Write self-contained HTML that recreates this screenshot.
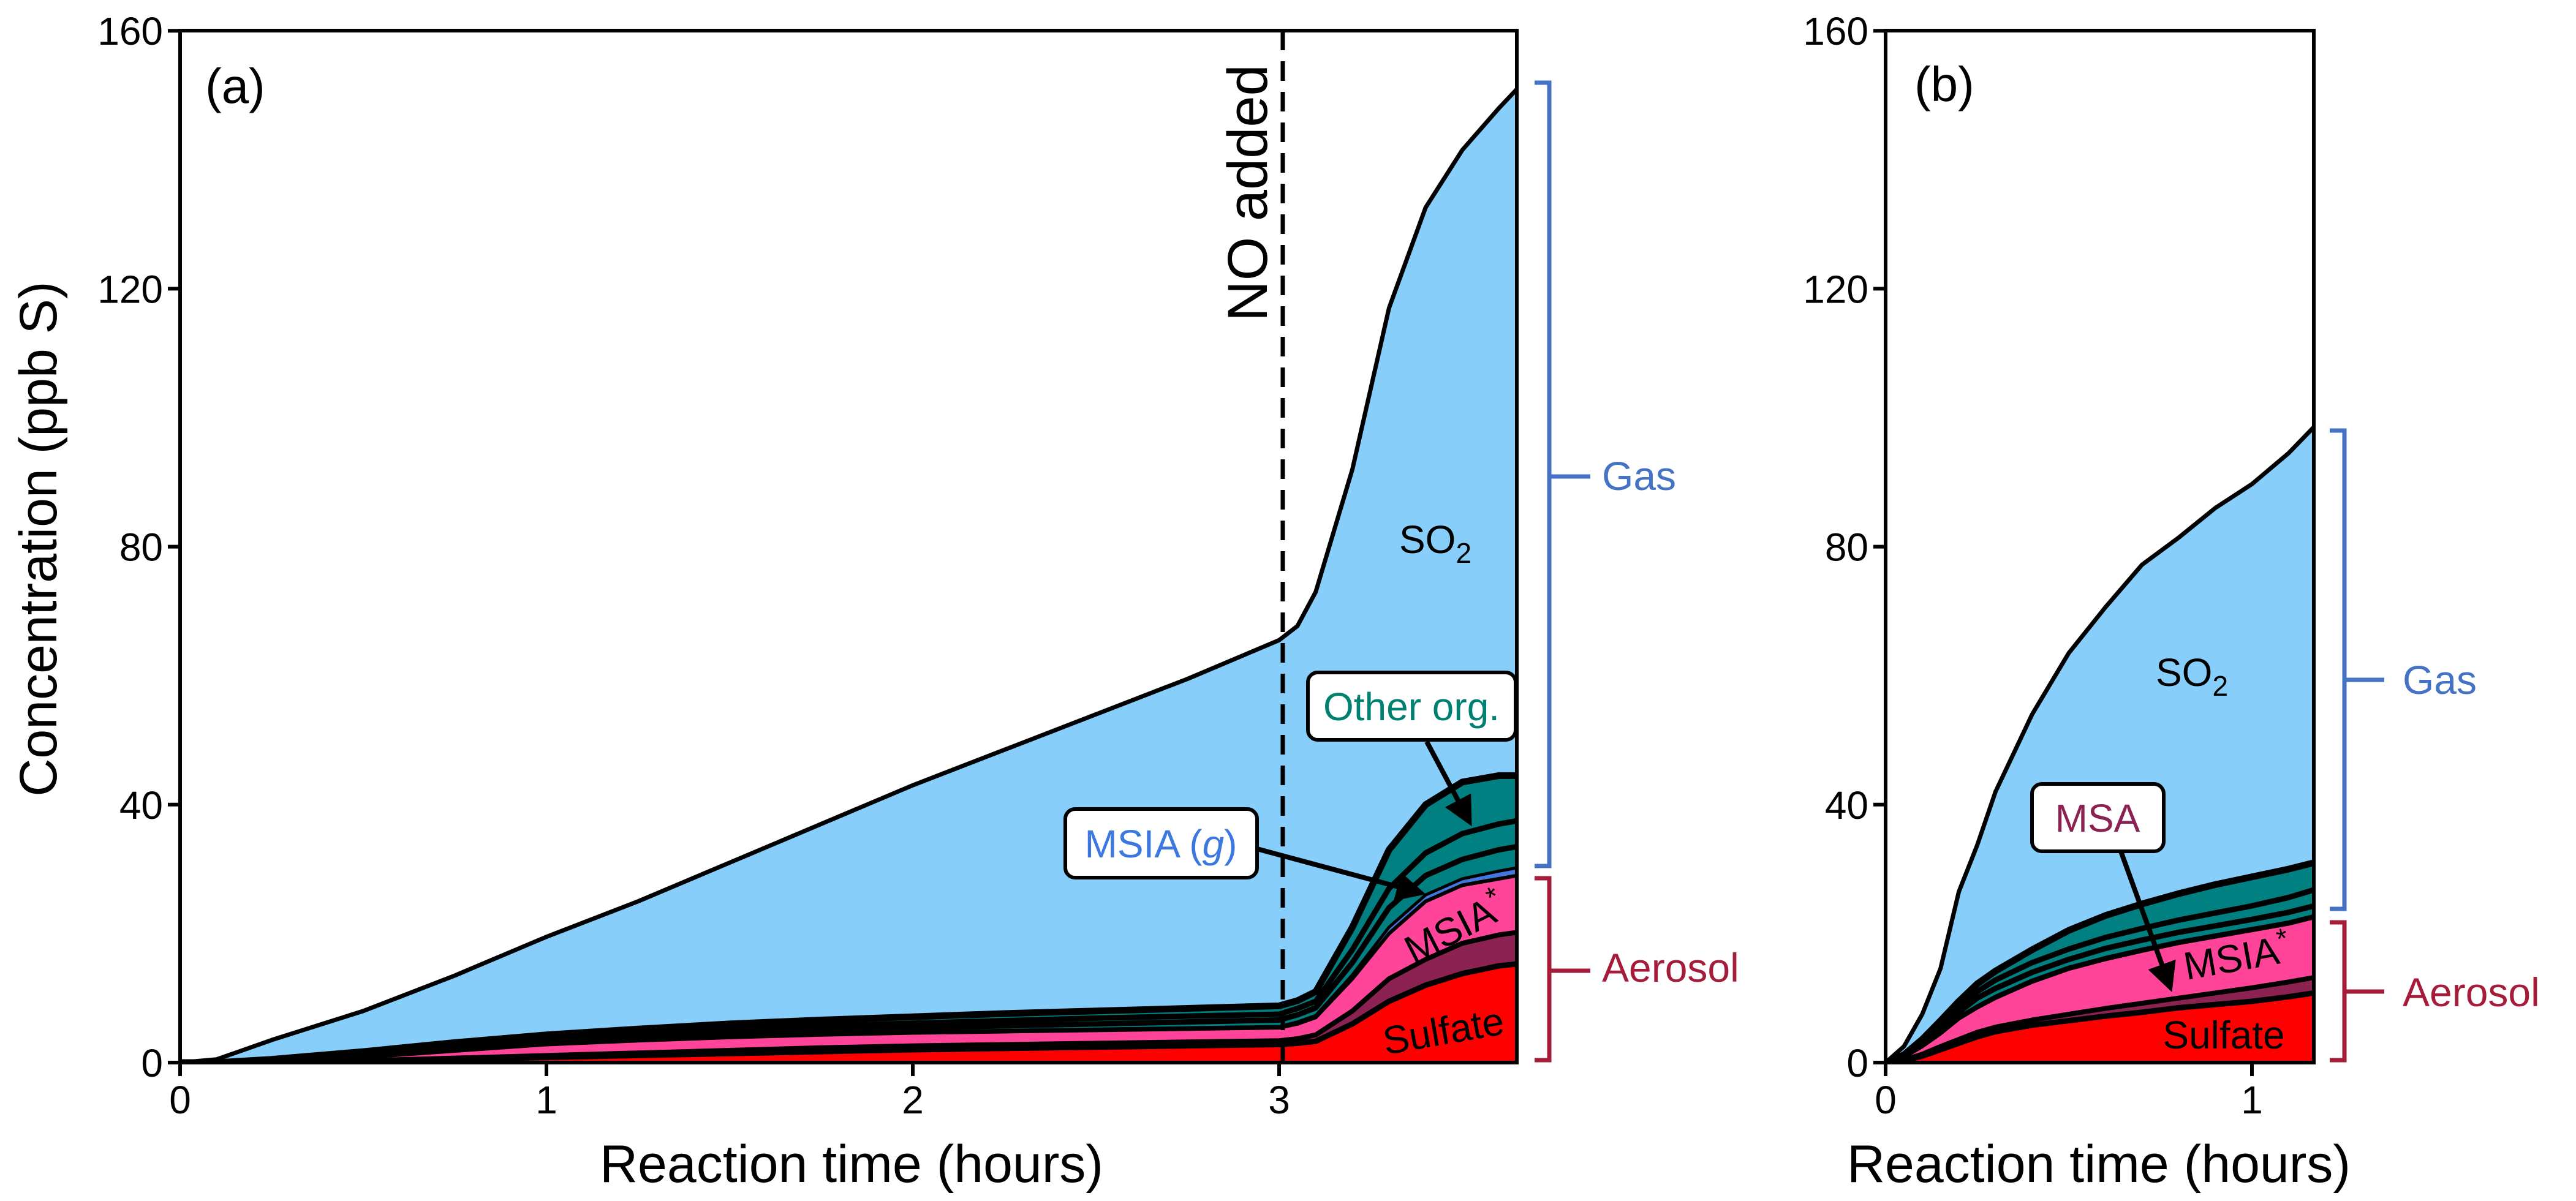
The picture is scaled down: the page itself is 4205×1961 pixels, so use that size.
<!DOCTYPE html>
<html><head><meta charset="utf-8">
<style>
html,body{margin:0;padding:0;background:#fff;}
svg{display:block;font-family:"Liberation Sans",Arial,sans-serif;}
</style></head>
<body>
<svg id="chart" width="4205" height="1961" viewBox="0 0 4205 1961" xmlns="http://www.w3.org/2000/svg">
<defs>
<clipPath id="clipA"><rect x="294" y="50" width="2182" height="1685"/></clipPath>
<clipPath id="clipB"><rect x="3078" y="50" width="699" height="1685"/></clipPath>
<marker id="arr" markerWidth="6" markerHeight="6" refX="4" refY="3" orient="auto" markerUnits="strokeWidth"><path d="M0,0 L6,3 L0,6 z" fill="#000"/></marker>
</defs>
<g id="gA"></g>
<g id="gB"></g>
<text x="0" y="0" font-size="86" text-anchor="middle" transform="translate(92,880) rotate(-90)">Concentration (ppb S)</text>
<g>
<text x="335" y="168" font-size="80">(a)</text>
<text x="3125" y="165" font-size="80">(b)</text>
<text font-size="92" transform="translate(2068,315) rotate(-90)" text-anchor="middle">NO added</text>
<text x="2343" y="903" font-size="64" text-anchor="middle">SO<tspan font-size="46" dy="16">2</tspan></text>
<text x="3578" y="1120" font-size="64" text-anchor="middle">SO<tspan font-size="46" dy="16">2</tspan></text>
<text font-size="64" text-anchor="middle" transform="translate(2385,1535) rotate(-27)">MSIA<tspan font-size="46" dy="-24">*</tspan></text>
<text font-size="64" text-anchor="middle" transform="translate(2360,1705) rotate(-10)">Sulfate</text>
<text font-size="64" text-anchor="middle" transform="translate(3655,1585) rotate(-10)">MSIA<tspan font-size="46" dy="-24">*</tspan></text>
<text font-size="64" x="3630" y="1712" text-anchor="middle">Sulfate</text>
<line x1="2329" y1="1211" x2="2395" y2="1335" stroke="#000" stroke-width="8" marker-end="url(#arr)"/>
<rect x="2135" y="1098" width="339" height="110" rx="16" fill="#fff" stroke="#000" stroke-width="6"/>
<text x="2304" y="1176" font-size="64" text-anchor="middle" fill="#008070">Other org.</text>
<line x1="2052" y1="1386" x2="2312" y2="1456" stroke="#000" stroke-width="8" marker-end="url(#arr)"/>
<rect x="1739" y="1321" width="313" height="112" rx="16" fill="#fff" stroke="#000" stroke-width="6"/>
<text x="1895" y="1400" font-size="64" text-anchor="middle" fill="#3C78E0">MSIA (<tspan font-style="italic">g</tspan>)</text>
<line x1="3462" y1="1390" x2="3540" y2="1605" stroke="#000" stroke-width="8" marker-end="url(#arr)"/>
<rect x="3317" y="1280" width="215" height="110" rx="16" fill="#fff" stroke="#000" stroke-width="6"/>
<text x="3424" y="1358" font-size="64" text-anchor="middle" fill="#8B2252">MSA</text>
<path d="M2505,135 H2529 V1414 H2505 M2529,778 H2596" fill="none" stroke="#4472C4" stroke-width="7"/>
<text x="2615" y="800" font-size="66" fill="#4472C4">Gas</text>
<path d="M2505,1434 H2529 V1731 H2505 M2529,1585 H2596" fill="none" stroke="#A51C3A" stroke-width="7"/>
<text x="2615" y="1603" font-size="66" fill="#A51C3A">Aerosol</text>
<path d="M3803,703 H3827 V1484 H3803 M3827,1110 H3892" fill="none" stroke="#4472C4" stroke-width="7"/>
<text x="3922" y="1133" font-size="66" fill="#4472C4">Gas</text>
<path d="M3803,1506 H3827 V1731 H3803 M3827,1619 H3892" fill="none" stroke="#A51C3A" stroke-width="7"/>
<text x="3922" y="1643" font-size="66" fill="#A51C3A">Aerosol</text>
</g>
</svg>
<script>
// ---------- Panel (a) data ----------
const timesA = [0,0.1,0.25,0.5,0.75,1,1.25,1.5,1.75,2,2.25,2.5,2.75,3,3.05,3.1,3.2,3.3,3.4,3.5,3.6,3.65];
const sulfateA = [0,0,0,0.2,0.5,0.8,1.1,1.4,1.7,2,2.2,2.4,2.6,2.8,3,3.3,6,9.5,12,13.8,15,15.3];
const msaTopA = [0,0,0,0.3,0.7,1.1,1.5,1.9,2.3,2.6,2.8,3,3.2,3.4,3.7,4.3,8,13,16,18.5,19.8,20.2];
const msiaStarTopA = [0,0,0.2,0.8,1.8,2.8,3.4,3.9,4.3,4.6,4.8,5,5.2,5.4,6,7,13,20,25,27.5,28.5,29];
const msiaGTopA = [0,0,0.25,0.95,1.95,3,3.6,4.1,4.5,4.8,5,5.2,5.4,5.6,6.3,7.3,13.6,21,26,28.5,29.7,30.2];
const org1TopA = [0,0,0.3,1.2,2.3,3.4,4,4.6,5,5.4,5.7,6,6.3,6.6,7.4,8.5,15.5,24,29,31.5,33,33.5];
const org2TopA = [0,0,0.4,1.4,2.7,3.8,4.5,5.2,5.7,6.1,6.5,6.9,7.2,7.5,8.4,9.5,17.5,27,32.5,35.5,37,37.5];
const org3TopA = [0,0,0.5,1.7,3.1,4.3,5.2,6,6.6,7.1,7.6,8,8.4,8.8,9.6,11,21,33,40,43.5,44.5,44.5];
const totalA = [0,0.5,3.5,8,13.5,19.5,25,31,37,43,48.5,54,59.5,65.5,67.7,73,92,117,132.6,141.5,148,151];
// ---------- Panel (b) data ----------
const timesB = [0,0.05,0.1,0.15,0.2,0.25,0.3,0.4,0.5,0.6,0.7,0.8,0.9,1,1.1,1.17];
const sulfateB = [0,0.3,1,2,3,4,4.8,5.8,6.5,7.2,7.8,8.5,9,9.5,10.2,10.8];
const msaTopB = [0,0.4,1.3,2.5,3.6,4.7,5.5,6.6,7.5,8.4,9.2,10,10.8,11.6,12.5,13.2];
const msiaStarTopB = [0,0.8,2.5,4.5,6.8,8.5,10,12.5,14.5,16,17.3,18.5,19.5,20.5,21.5,22.5];
const msiaGTopB = [0,0.9,2.7,4.8,7.1,8.8,10.3,12.8,14.8,16.3,17.6,18.8,19.8,20.8,21.8,22.8];
const org1TopB = [0,1,3,5.3,7.8,10,11.5,14,16,17.7,19,20.2,21.2,22.2,23.3,24.3];
const org2TopB = [0,1.1,3.3,5.9,8.6,11,12.8,15.5,17.6,19.4,20.8,22.1,23.2,24.3,25.6,26.8];
const org3TopB = [0,1.2,3.6,6.5,9.5,12.2,14.2,17.5,20.5,22.8,24.6,26.2,27.6,28.8,30,31];
const totalB = [0,2.5,7.5,14.6,26.5,33.7,42,54,63.5,70.6,77.2,81.4,86,89.7,94.5,98.6];
// ---------- Ticks ----------
const yTicks = [0,40,80,120,160];
const xTicksA = [0,1,2,3];
const xTicksB = [0,1];
const noAddedTime = 3.01;

const NS = "http://www.w3.org/2000/svg";
const Y0 = 1735, YPX = 10.53, XPX = 598;
function yS(v){ return Y0 - v*YPX; }
function mk(tag, attrs, parent){
  const e = document.createElementNS(NS, tag);
  for (const k in attrs) e.setAttribute(k, attrs[k]);
  parent.appendChild(e);
  return e;
}
function bandPath(xs, lo, hi, xS){
  let d = "M" + xs.map((t,i)=>xS(t)+","+yS(hi[i])).join(" L");
  for (let i=xs.length-1;i>=0;i--) d += " L"+xS(xs[i])+","+yS(lo?lo[i]:0);
  return d + " Z";
}
function linePath(xs, ys, xS){ return "M" + xs.map((t,i)=>xS(t)+","+yS(ys[i])).join(" L"); }

function panel(g, clipId, x0, x1, times, layers, tops, xTicks, xTitleX){
  const xS = t => x0 + t*XPX;
  const cg = mk("g", {"clip-path":"url(#"+clipId+")"}, g);
  
  
  let prev = null;
  layers.forEach(L=>{
    const p = mk("path", {d: bandPath(times, prev, L.top, xS), fill: L.color, stroke:"none"}, cg);
    
    
    prev = L.top;
  });
  tops.forEach(T=>{
    const l = mk("path", {d: linePath(times, T.top, xS), fill:"none", stroke:T.stroke, "stroke-width":T.w, "stroke-linejoin":"round"}, cg);
    
    
  });
  const fr = mk("rect", {x:x0, y:50, width:x1-x0, height:1685, fill:"none", stroke:"#000", "stroke-width":6}, g);
  
  
  yTicks.forEach(v=>{
    const tk = mk("line", {x1:x0-20, x2:x0, y1:yS(v), y2:yS(v), stroke:"#000","stroke-width":6}, g);
    
    
    const tx = mk("text", {x:x0-28, y:yS(v)+23, "text-anchor":"end", "font-size":64}, g);
    tx.textContent = v;
    
    
  });
  xTicks.forEach(v=>{
    const tk = mk("line", {x1:xS(v), x2:xS(v), y1:1735, y2:1757, stroke:"#000","stroke-width":6}, g);
    
    
    const tx = mk("text", {x:xS(v), y:1818, "text-anchor":"middle", "font-size":64}, g);
    tx.textContent = v;
    
    
  });
  const xt = mk("text", {x:xTitleX, y:1930, "text-anchor":"middle", "font-size":86}, g);
  xt.textContent = "Reaction time (hours)";
  
  
  return xS;
}
const C = {so2:"#87CEFA", org:"#008080", msiag:"#4477DD", msiastar:"#FF4499", msa:"#8B2252", sulf:"#FF0000"};
function mkLayers(s,m,ms,mg,o1,o2,o3,tot){
  return [
    {name:"sulfate-area", top:s, color:C.sulf},
    {name:"msa-area", top:m, color:C.msa},
    {name:"msia-star-area", top:ms, color:C.msiastar},
    {name:"msia-gas-area", top:mg, color:C.msiag},
    {name:"other-org-area-1", top:o1, color:C.org},
    {name:"other-org-area-2", top:o2, color:C.org},
    {name:"other-org-area-3", top:o3, color:C.org},
    {name:"so2-area", top:tot, color:C.so2}
  ];
}
function mkTops(s,m,ms,mg,o1,o2,o3,tot){
  return [{top:s,stroke:"#000",w:9},{top:m,stroke:"#000",w:8},{top:ms,stroke:"#000",w:6},{top:mg,stroke:"#000",w:5},
          {top:o1,stroke:"#000",w:9},{top:o2,stroke:"#000",w:9},{top:o3,stroke:"#000",w:11},{top:tot,stroke:"#000",w:7}];
}
const gA = document.getElementById("gA");
const gB = document.getElementById("gB");
const xSA = panel(gA, "clipA", 294, 2476, timesA,
  mkLayers(sulfateA,msaTopA,msiaStarTopA,msiaGTopA,org1TopA,org2TopA,org3TopA,totalA),
  mkTops(sulfateA,msaTopA,msiaStarTopA,msiaGTopA,org1TopA,org2TopA,org3TopA,totalA), xTicksA, 1390);
const xSB = panel(gB, "clipB", 3078, 3777, timesB,
  mkLayers(sulfateB,msaTopB,msiaStarTopB,msiaGTopB,org1TopB,org2TopB,org3TopB,totalB),
  mkTops(sulfateB,msaTopB,msiaStarTopB,msiaGTopB,org1TopB,org2TopB,org3TopB,totalB), xTicksB, 3426);

const dl = mk("line", {x1:xSA(noAddedTime), x2:xSA(noAddedTime), y1:50, y2:1735, stroke:"#000","stroke-width":7,"stroke-dasharray":"32,18"}, gA);


</script>
</body></html>
